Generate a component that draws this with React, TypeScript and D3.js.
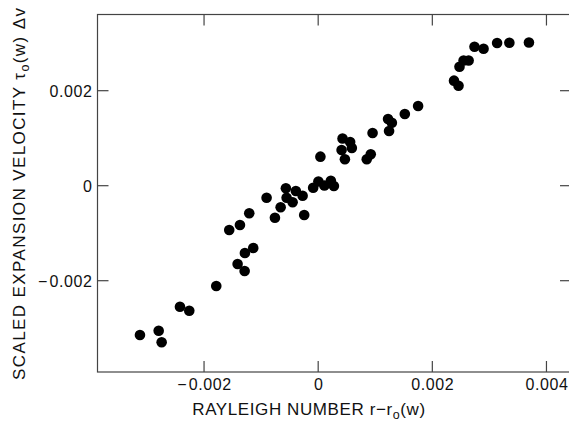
import React from "react";
import * as d3 from "d3";

const xValues = [
  -0.003123, -0.002795, -0.002743, -0.002422, -0.002259, -0.001786, -0.001412, -0.001289,
  -0.001284, -0.001138, -0.001559, -0.001371, -0.001208, -0.000904, -0.000758, -0.000658,
  -0.000566, -0.000553, -0.000448, -0.000391, -0.000273, -0.000245, -0.000088, 0.000004,
  0.000109, 0.000222, 0.000275, 0.000039, 0.00041, 0.000427, 0.00056, 0.00059,
  0.000468, 0.000851, 0.000921, 0.000953, 0.001224, 0.001291, 0.001242, 0.001518,
  0.001751, 0.00238, 0.002459, 0.002476, 0.002548, 0.002636, 0.002739, 0.002898,
  0.003135, 0.00335, 0.003693,
];
const yValues = [
  -0.003143, -0.003053, -0.003297, -0.002547, -0.002632, -0.002112, -0.001648, -0.001796,
  -0.001417, -0.001312, -0.000933, -0.000827, -0.000581, -0.000253, -0.000674, -0.000455,
  -0.000055, -0.000253, -0.000349, -0.000112, -0.000211, -0.000617, -0.000042, 0.000088,
  0.000004, 0.000103, -0.000006, 0.000611, 0.000752, 0.000994, 0.00092, 0.000794,
  0.000556, 0.000558, 0.000663, 0.001109, 0.001404, 0.001326, 0.001152, 0.001509,
  0.001678, 0.002211, 0.002103, 0.002505, 0.002636, 0.002636, 0.002926, 0.002884,
  0.003004, 0.003008, 0.003015,
];
const xTicks = [-0.002, 0, 0.002, 0.004];
const yTicks = [-0.002, 0, 0.002];
const xTickLabels = ["\u22120.002", "0", "0.002", "0.004"];
const yTickLabels = ["\u22120.002", "0", "0.002"];

const W = 569;
const H = 425;
const left = 97.5;
const right = 571;
const top = 14.5;
const bottom = 372;

function TickLabel({ label }: { label: string }) {
  if (label.startsWith("\u2212")) {
    return (
      <>
        <tspan letterSpacing={2}>{"\u2212"}</tspan>
        <tspan>{label.slice(1)}</tspan>
      </>
    );
  }
  return <>{label}</>;
}

export default function App() {
  const x = d3.scaleLinear().domain([-0.003867, 0.00443]).range([left, right]);
  const y = d3.scaleLinear().domain([-0.003922, 0.003604]).range([bottom, top]);
  const points = xValues.map((v, i) => [v, yValues[i]]);
  const font = "'Liberation Sans', Arial, Helvetica, sans-serif";
  const ink = "#111";
  const tickLen = 11;
  return (
    <svg
      width={W}
      height={H}
      style={{ position: "absolute", left: 0, top: 0, background: "#fff" }}
      fontFamily={font}
    >
      <rect x={0} y={0} width={W} height={H} fill="#fff" />
      <rect
        x={left}
        y={top}
        width={right - left}
        height={bottom - top}
        fill="none"
        stroke="#444"
        strokeWidth={1.2}
      />
      {xTicks.map((t) => (
        <g key={"xt" + t}>
          <line x1={x(t)} x2={x(t)} y1={bottom} y2={bottom - tickLen} stroke="#444" strokeWidth={1.2} />
          <line x1={x(t)} x2={x(t)} y1={top} y2={top + tickLen} stroke="#444" strokeWidth={1.2} />
        </g>
      ))}
      {yTicks.map((t) => (
        <g key={"yt" + t}>
          <line x1={left} x2={left + tickLen} y1={y(t)} y2={y(t)} stroke="#444" strokeWidth={1.2} />
          <line x1={right} x2={right - tickLen} y1={y(t)} y2={y(t)} stroke="#444" strokeWidth={1.2} />
        </g>
      ))}
      {xTicks.map((t, i) => (
        <text key={"xl" + t} x={x(t) + 0.5} y={390} textAnchor="middle" fontSize={16} letterSpacing={0.6} fill={ink}>
          <TickLabel label={xTickLabels[i]} />
        </text>
      ))}
      {yTicks.map((t, i) => (
        <text key={"yl" + t} x={92.5} y={y(t) + 6} textAnchor="end" fontSize={16} letterSpacing={0.6} fill={ink}>
          <TickLabel label={yTickLabels[i]} />
        </text>
      ))}
      <text x={309} y={415} textAnchor="middle" fontSize={17} letterSpacing={0.6} fill={ink}>
        RAYLEIGH NUMBER r{"\u2212"}r<tspan dy={4} fontSize={12.5}>o</tspan>
        <tspan dy={-4}>(w)</tspan>
      </text>
      <text transform="translate(25,380) rotate(-90)" textAnchor="start" fontSize={17} letterSpacing={1.4} fill={ink}>
        SCALED EXPANSION VELOCITY {"\u03C4"}
        <tspan dy={4} fontSize={12.5}>o</tspan>
        <tspan dy={-4}>(w)  {"\u0394"}v</tspan>
      </text>
      {points.map((p, i) => (
        <circle key={i} cx={x(p[0])} cy={y(p[1])} r={5.3} fill="#000" />
      ))}
    </svg>
  );
}
